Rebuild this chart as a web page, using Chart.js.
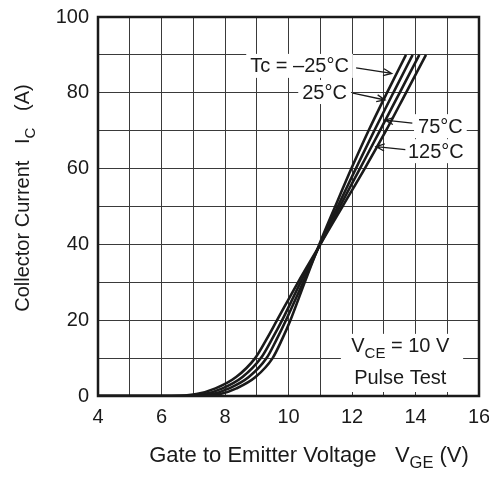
<!DOCTYPE html>
<html>
<head>
<meta charset="utf-8">
<script src="https://cdn.jsdelivr.net/npm/chart.js@4.4.1/dist/chart.umd.min.js"></script>
<style>
  html, body { margin: 0; padding: 0; background: #fff; }
  #wrap { width: 489px; height: 479px; }
</style>
</head>
<body>
<div id="wrap"><canvas id="chart-ic"></canvas></div>
<script>
  // Collector current levels (A), shared by the four curves
  const currents = [0, 0, 0.5, 2, 5, 10, 15, 20, 30, 40, 50, 60, 70, 80, 90];
  // Gate to emitter voltage (V) reached at each current level, one list per case temperature
  const vgeMinus25 = [4, 7.2, 7.85, 8.36, 8.96, 9.5, 9.8, 10.06, 10.51, 10.97, 11.47, 11.98, 12.52, 13.1, 13.7];
  const vge25      = [4, 6.9, 7.6, 8.13, 8.75, 9.31, 9.63, 9.92, 10.46, 10.99, 11.55, 12.12, 12.7, 13.3, 13.91];
  const vge75      = [4, 6.6, 7.35, 7.92, 8.55, 9.13, 9.48, 9.8, 10.38, 11.0, 11.62, 12.25, 12.88, 13.5, 14.12];
  const vge125     = [4, 6.3, 7.1, 7.7, 8.35, 8.95, 9.31, 9.64, 10.3, 11.0, 11.7, 12.4, 13.07, 13.7, 14.33];
  const curveNames = ['Tc = \u201325\u00B0C', '25\u00B0C', '75\u00B0C', '125\u00B0C'];
  const xTicks = [4, 6, 8, 10, 12, 14, 16];
  const yTicks = [0, 20, 40, 60, 80, 100];

  const FONT = '"Liberation Sans", Arial, Helvetica, sans-serif';
  Chart.defaults.font.family = FONT;
  Chart.defaults.font.size = 20;
  Chart.defaults.color = '#1a1a1a';

  function toPoints(vs) {
    return vs.map((v, i) => ({ x: v, y: currents[i] }));
  }

  // draw text made of [text, isSubscript] parts
  function richWidth(ctx, parts, size) {
    let w = 0;
    parts.forEach(([t, sub]) => {
      ctx.font = (sub ? size * 0.75 : size) + 'px ' + FONT;
      w += ctx.measureText(t).width;
    });
    return w;
  }
  function drawRich(ctx, parts, x, y, size, align) {
    const w = richWidth(ctx, parts, size);
    let cx = align === 'center' ? x - w / 2 : (align === 'right' ? x - w : x);
    ctx.textAlign = 'left';
    ctx.textBaseline = 'alphabetic';
    parts.forEach(([t, sub]) => {
      ctx.font = (sub ? size * 0.75 : size) + 'px ' + FONT;
      ctx.fillText(t, cx, sub ? y + size * 0.28 : y);
      cx += ctx.measureText(t).width;
    });
    return w;
  }
  function arrow(ctx, x1, y1, x2, y2) {
    ctx.beginPath();
    ctx.moveTo(x1, y1);
    ctx.lineTo(x2, y2);
    const ang = Math.atan2(y2 - y1, x2 - x1);
    const len = 9;
    ctx.moveTo(x2 - len * Math.cos(ang - 0.4), y2 - len * Math.sin(ang - 0.4));
    ctx.lineTo(x2, y2);
    ctx.lineTo(x2 - len * Math.cos(ang + 0.4), y2 - len * Math.sin(ang + 0.4));
    ctx.stroke();
  }

  // annotation placement in data coordinates (V, A)
  const labelPlaces = [
    { at: [11.9, 87.1], align: 'right', from: [12.13, 86.6], to: [13.25, 85.1] },
    { at: [11.84, 80.2], align: 'right', from: [12.03, 79.9], to: [13.04, 78.1] },
    { at: [14.08, 71.2], align: 'left', from: [13.9, 72.0], to: [13.04, 72.8] },
    { at: [13.76, 64.6], align: 'left', from: [13.68, 65.0], to: [12.76, 65.8] }
  ];

  const overlay = {
    id: 'overlay',
    afterDraw(chart) {
      const { ctx, chartArea: a, scales: { x, y } } = chart;
      const px = v => x.getPixelForValue(v);
      const py = v => y.getPixelForValue(v);
      ctx.save();
      ctx.fillStyle = '#1a1a1a';
      ctx.strokeStyle = '#1a1a1a';

      // temperature labels with white boxes and arrows
      labelPlaces.forEach((p, i) => {
        ctx.font = '20px ' + FONT;
        const w = ctx.measureText(curveNames[i]).width;
        const tx = px(p.at[0]), ty = py(p.at[1]);
        const left = p.align === 'right' ? tx - w : tx;
        ctx.fillStyle = '#fff';
        ctx.fillRect(left - 4, ty - 12, w + 8, 24);
        ctx.fillStyle = '#1a1a1a';
        ctx.textAlign = p.align;
        ctx.textBaseline = 'middle';
        ctx.fillText(curveNames[i], tx, ty + 1);
        ctx.lineWidth = 1.3;
        arrow(ctx, px(p.from[0]), py(p.from[1]), px(p.to[0]), py(p.to[1]));
      });

      // test condition box
      const bl = px(11.65), br = px(15.5), bt = py(16.4);
      ctx.fillStyle = '#fff';
      ctx.fillRect(bl, bt, br - bl, a.bottom - 4 - bt);
      ctx.fillStyle = '#1a1a1a';
      const cx = px(13.52);
      drawRich(ctx, [['V', false], ['CE', true], [' = 10 V', false]], cx, py(11.6), 20, 'center');
      drawRich(ctx, [['Pulse Test', false]], cx, py(3.2), 20, 'center');

      // frame
      ctx.lineWidth = 2.5;
      ctx.strokeRect(a.left, a.top, a.right - a.left, a.bottom - a.top);

      // axis titles
      drawRich(ctx, [['Gate to Emitter Voltage   V', false], ['GE', true], [' (V)', false]], 309, 462, 22, 'center');
      ctx.translate(29, 198);
      ctx.rotate(-Math.PI / 2);
      drawRich(ctx, [['Collector Current   I', false], ['C', true], ['   (A)', false]], 0, 0, 20, 'center');
      ctx.restore();
    }
  };

  const lineStyle = {
    borderColor: '#1a1a1a',
    borderWidth: 2.6,
    pointRadius: 0,
    showLine: true,
    fill: false,
    cubicInterpolationMode: 'monotone'
  };

  new Chart(document.getElementById('chart-ic'), {
    type: 'scatter',
    data: {
      datasets: [
        { label: curveNames[0], data: toPoints(vgeMinus25), ...lineStyle },
        { label: curveNames[1], data: toPoints(vge25), ...lineStyle },
        { label: curveNames[2], data: toPoints(vge75), ...lineStyle },
        { label: curveNames[3], data: toPoints(vge125), ...lineStyle }
      ]
    },
    options: {
      responsive: true,
      maintainAspectRatio: false,
      animation: false,
      layout: { padding: { top: 17, right: 10, left: 0, bottom: 0 } },
      plugins: {
        legend: { display: false },
        tooltip: { enabled: false }
      },
      scales: {
        x: {
          type: 'linear',
          min: 4,
          max: 16,
          afterFit: s => { s.height = 83; s.paddingLeft = 0; s.paddingRight = 0; },
          ticks: {
            stepSize: 1,
            padding: 9,
            maxRotation: 0,
            autoSkip: false,
            callback: v => xTicks.includes(v) ? v : ''
          },
          grid: { color: '#3a3a3a', lineWidth: 1, drawTicks: false },
          border: { display: false }
        },
        y: {
          type: 'linear',
          min: 0,
          max: 100,
          afterFit: s => { s.width = 98; s.paddingTop = 0; s.paddingBottom = 0; },
          ticks: {
            stepSize: 10,
            padding: 9,
            autoSkip: false,
            callback: v => yTicks.includes(v) ? v : ''
          },
          grid: { color: '#3a3a3a', lineWidth: 1, drawTicks: false },
          border: { display: false }
        }
      }
    },
    plugins: [overlay]
  });
</script>
</body>
</html>
